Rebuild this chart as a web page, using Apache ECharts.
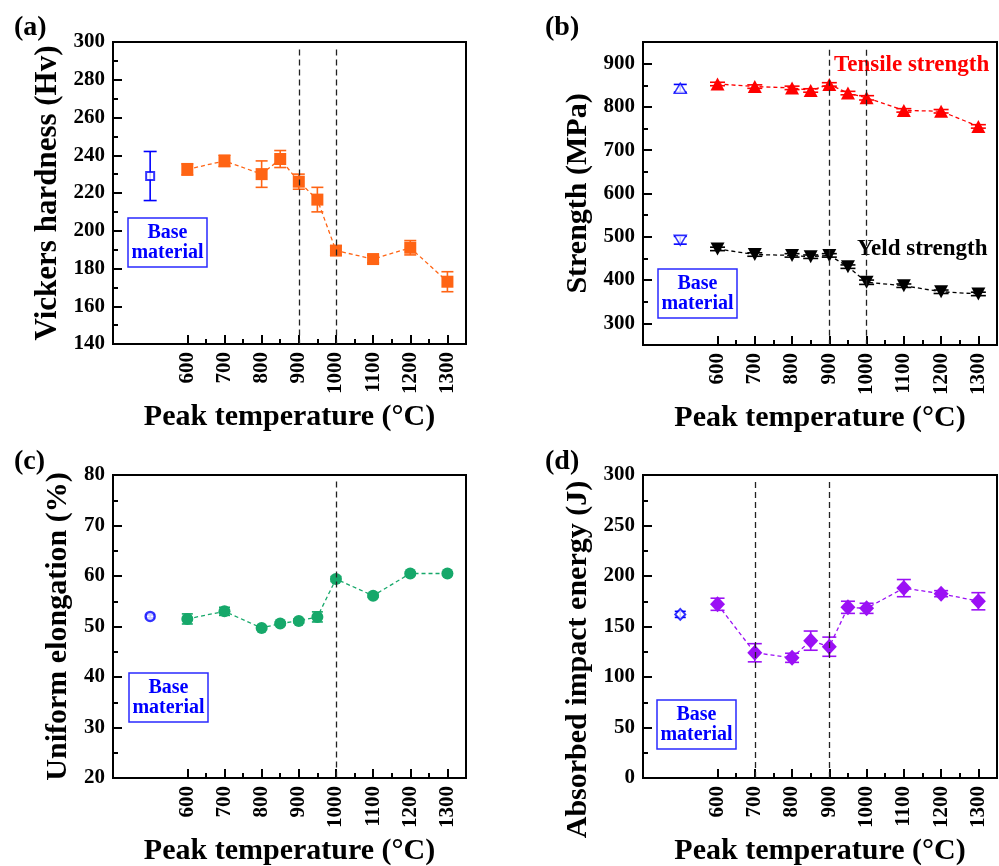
<!DOCTYPE html>
<html>
<head>
<meta charset="utf-8">
<title>Peak temperature properties</title>
<script src="https://cdn.jsdelivr.net/npm/echarts@6/dist/echarts.min.js"></script>
<style>
  html, body { margin: 0; padding: 0; background: #fff; }
  #chart { width: 999px; height: 866px; }
</style>
</head>
<body>
<div id="chart"></div>
<script>
// values
const temps = [600, 700, 800, 850, 900, 950, 1000, 1100, 1200, 1300];
const tempTicks = [600, 700, 800, 900, 1000, 1100, 1200, 1300];
const tempMinorTicks = [650, 750, 850, 950, 1050, 1150, 1250];
const baseX = 500;

const hardness = [232.5, 237, 230, 238, 226, 216.5, 189.5, 185, 191, 173];
const hardnessErr = [3, 3, 7, 4.5, 4, 6.5, 2.5, 2, 3.8, 5.3];
const hardnessBase = [229, 13];
const hardTicks = [140, 160, 180, 200, 220, 240, 260, 280, 300];
const hardMinor = [150, 170, 190, 210, 230, 250, 270, 290];

const tensile = [853, 847, 844, 838, 852, 832, 821, 792, 790, 755];
const tensileErr = [4, 4, 4, 4, 4, 4, 5, 4, 4, 4];
const tensileBase = [843, 9];
const yieldS = [472, 459, 457, 454, 457, 431, 395, 387, 373, 368];
const yieldErr = [4, 4, 4, 4, 4, 4, 5, 4, 4, 4];
const yieldBase = [492, 9];
const strengthTicks = [300, 400, 500, 600, 700, 800, 900];
const strengthMinor = [350, 450, 550, 650, 750, 850];

const elong = [51.5, 53, 49.7, 50.6, 51.1, 51.9, 59.4, 56.1, 60.5, 60.5];
const elongErr = [1, 0.8, 0.3, 0.3, 0.4, 1, 0.5, 0.3, 0.3, 0.3];
const elongBase = [52, 0.3];
const elongTicks = [20, 30, 40, 50, 60, 70, 80];
const elongMinor = [25, 35, 45, 55, 65, 75];

const impact = [172, 124, 119, 136, 130, 169, 168, 188, 182.5, 175];
const impactErr = [6, 9, 4.5, 9.5, 9.5, 6, 5, 8.5, 3, 8.5];
const impactBase = [162, 3];
const impactTicks = [0, 50, 100, 150, 200, 250, 300];
const impactMinor = [25, 75, 125, 175, 225, 275];

const FONT = '"Liberation Serif", "Times New Roman", serif';

const chart = echarts.init(document.getElementById("chart"));

function axisPair(dim, gridIndex, min, max, ticks, minor, name, nameGap, nameSize, namePadding) {
  const isX = dim === "x";
  const main = {
    type: "value",
    gridIndex,
    min,
    max,
    position: isX ? "bottom" : "left",
    axisLine: { show: false },
    splitLine: { show: false },
    axisTick: { inside: true, length: 9, customValues: ticks, lineStyle: { color: "#000", width: 2 } },
    axisLabel: {
      customValues: ticks,
      formatter: (v) => String(v),
      rotate: isX ? 90 : 0,
      margin: 8,
      color: "#000",
      fontFamily: FONT,
      fontWeight: "bold",
      fontSize: 21,
    },
    name,
    nameLocation: "middle",
    nameGap,
    nameTextStyle: {
      color: "#000",
      fontFamily: FONT,
      fontWeight: "bold",
      fontSize: nameSize,
      padding: namePadding || 0,
    },
  };
  const minorAxis = {
    type: "value",
    gridIndex,
    min,
    max,
    position: isX ? "bottom" : "left",
    axisLine: { show: false },
    splitLine: { show: false },
    axisLabel: { show: false },
    axisTick: { inside: true, length: 5, customValues: minor, lineStyle: { color: "#000", width: 2 } },
  };
  return [main, minorAxis];
}

function errorBars(capW, color, lw) {
  return (params, api) => {
    const x = api.value(0), y = api.value(1), e = api.value(2);
    const hi = api.coord([x, y + e]);
    const lo = api.coord([x, y - e]);
    const hw = capW / 2;
    const style = { stroke: color, lineWidth: lw };
    return {
      type: "group",
      children: [
        { type: "line", shape: { x1: hi[0], y1: hi[1], x2: lo[0], y2: lo[1] }, style },
        { type: "line", shape: { x1: hi[0] - hw, y1: hi[1], x2: hi[0] + hw, y2: hi[1] }, style },
        { type: "line", shape: { x1: lo[0] - hw, y1: lo[1], x2: lo[0] + hw, y2: lo[1] }, style },
      ],
    };
  };
}

function pointSeries(i, vals, errs, opt) {
  const ax = { xAxisIndex: 2 * i, yAxisIndex: 2 * i };
  return [
    {
      type: "custom",
      ...ax,
      renderItem: errorBars(opt.cap, opt.color, 1.6),
      data: temps.map((t, k) => [t, vals[k], errs[k]]),
      encode: { x: 0, y: 1 },
      z: 2,
      silent: true,
    },
    {
      type: "line",
      ...ax,
      data: temps.map((t, k) => [t, vals[k]]),
      symbol: opt.symbol,
      symbolSize: opt.size,
      symbolRotate: opt.rotate || 0,
      itemStyle: { color: opt.color },
      lineStyle: { color: opt.color, width: 1.3, type: [4, 3] },
      z: 3,
      silent: true,
      markLine: opt.dashes
        ? {
            silent: true,
            symbol: "none",
            label: { show: false },
            lineStyle: { color: "#222", width: 1.3, type: [6, 4] },
            data: opt.dashes.map((d) => [{ coord: [d, opt.dashTop] }, { coord: [d, opt.dashBottom] }]),
          }
        : undefined,
    },
  ];
}

function baseSeries(i, base, opt) {
  const ax = { xAxisIndex: 2 * i, yAxisIndex: 2 * i };
  return [
    {
      type: "custom",
      ...ax,
      renderItem: errorBars(opt.cap, "#0000ff", 1.6),
      data: [[baseX, base[0], base[1]]],
      encode: { x: 0, y: 1 },
      z: 2,
      silent: true,
    },
    {
      type: "scatter",
      ...ax,
      data: [[baseX, base[0]]],
      symbol: opt.symbol,
      symbolSize: opt.size,
      symbolRotate: opt.rotate || 0,
      itemStyle: { color: "#fff", borderColor: "#0000ff", borderWidth: opt.border || 2 },
      z: 4,
      silent: true,
    },
  ];
}

const grids = [
  { left: 113, top: 42, width: 353, height: 302 },
  { left: 643, top: 42, width: 354, height: 303 },
  { left: 113, top: 475, width: 353, height: 303 },
  { left: 643, top: 475, width: 354, height: 303 },
].map((g) => ({ ...g, show: true, borderColor: "#000", borderWidth: 2, outerBoundsMode: "none" }));

const xAxes = [];
const yAxes = [];
for (let i = 0; i < 4; i++) {
  xAxes.push(...axisPair("x", i, 400, 1350, tempTicks, tempMinorTicks, "Peak temperature (°C)", 58, 30));
}
yAxes.push(...axisPair("y", 0, 140, 300, hardTicks, hardMinor, "Vickers hardness (Hv)", 50, 31));
yAxes.push(...axisPair("y", 1, 250, 950, strengthTicks, strengthMinor, "Strength (MPa)", 50, 30));
yAxes.push(...axisPair("y", 2, 20, 80, elongTicks, elongMinor, "Uniform elongation (%)", 40, 30));
yAxes.push(...axisPair("y", 3, 0, 300, impactTicks, impactMinor, "Absorbed impact energy (J)", 50, 30, [0, 66, 0, 0]));

const series = [
  ...pointSeries(0, hardness, hardnessErr, {
    color: "#ff6414", symbol: "rect", size: 12, cap: 12,
    dashes: [900, 1000], dashTop: 296, dashBottom: 140,
  }),
  ...baseSeries(0, hardnessBase, { symbol: "rect", size: 8, cap: 13 }),

  ...pointSeries(1, tensile, tensileErr, {
    color: "#ff0000", symbol: "triangle", size: [14, 13], cap: 15,
    dashes: [900, 1000], dashTop: 932, dashBottom: 250,
  }),
  ...pointSeries(1, yieldS, yieldErr, {
    color: "#000000", symbol: "triangle", size: [14, 13], rotate: 180, cap: 15,
  }),
  ...baseSeries(1, tensileBase, { symbol: "triangle", size: [12, 10], cap: 13, border: 1.5 }),
  ...baseSeries(1, yieldBase, { symbol: "triangle", size: [12, 10], rotate: 180, cap: 13, border: 1.5 }),

  ...pointSeries(2, elong, elongErr, {
    color: "#16a86a", symbol: "circle", size: 12, cap: 11,
    dashes: [1000], dashTop: 78.7, dashBottom: 20,
  }),
  ...baseSeries(2, elongBase, { symbol: "circle", size: 9, cap: 9, border: 2.5 }),

  ...pointSeries(3, impact, impactErr, {
    color: "#9b10f5", symbol: "diamond", size: [15, 16], cap: 14,
    dashes: [700, 900], dashTop: 293, dashBottom: 0,
  }),
  ...baseSeries(3, impactBase, { symbol: "diamond", size: [10, 11], cap: 11, border: 2 }),
];

function baseBox(x, y) {
  return {
    type: "group",
    x,
    y,
    children: [
      { type: "rect", shape: { x: 0, y: 0, width: 79, height: 49 }, style: { fill: "#fff", stroke: "#2a2aff", lineWidth: 1.5 } },
      {
        type: "text",
        style: {
          x: 39.5, y: 25, text: "Base\nmaterial", align: "center", verticalAlign: "middle",
          fill: "#0000ff", font: "bold 20px " + FONT, lineHeight: 20,
        },
      },
    ],
  };
}

function label(text, x, y, size, color) {
  return {
    type: "text",
    style: { x, y, text, fill: color || "#000", font: "bold " + size + "px " + FONT, verticalAlign: "middle" },
  };
}

chart.setOption({
  animation: false,
  backgroundColor: "#fff",
  grid: grids,
  xAxis: xAxes,
  yAxis: yAxes,
  series,
  graphic: [
    label("(a)", 14, 28, 28),
    label("(b)", 545, 28, 28),
    label("(c)", 14, 462, 28),
    label("(d)", 545, 462, 28),
    label("Tensile strength", 834, 65, 23, "#ff0000"),
    label("Yeld strength", 857, 249, 23, "#000"),
    baseBox(128, 218),
    baseBox(658, 269),
    baseBox(129, 673),
    baseBox(657, 700),
  ],
});
</script>
</body>
</html>
